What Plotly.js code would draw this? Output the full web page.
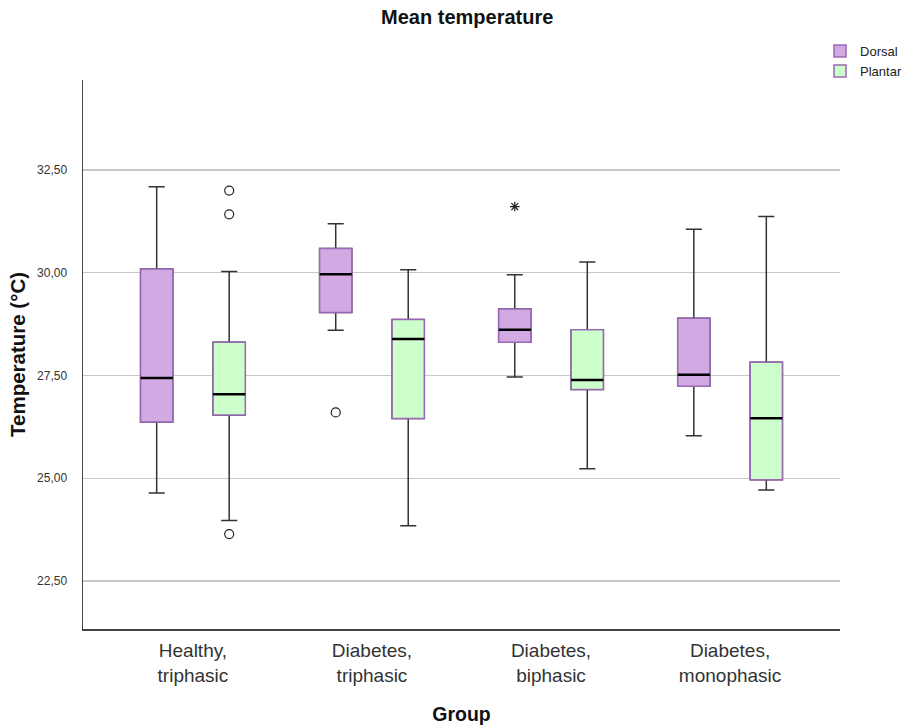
<!DOCTYPE html>
<html>
<head>
<meta charset="utf-8">
<script src="https://cdn.plot.ly/plotly-3.0.1.min.js"></script>
<style>html,body{margin:0;padding:0;background:#fff;}#chart{width:909px;height:727px;}</style>
</head>
<body>
<div id="chart"></div>
<script>
const categories = ["Healthy,<br>triphasic", "Diabetes,<br>triphasic", "Diabetes,<br>biphasic", "Diabetes,<br>monophasic"];

const dorsalLower  = [24.64, 28.60, 27.46, 26.03];
const dorsalQ1     = [26.37, 29.03, 28.31, 27.24];
const dorsalMedian = [27.44, 29.96, 28.61, 27.52];
const dorsalQ3     = [30.09, 30.59, 29.12, 28.89];
const dorsalUpper  = [32.09, 31.19, 29.95, 31.06];

const plantarLower  = [23.97, 23.84, 25.23, 24.71];
const plantarQ1     = [26.54, 26.45, 27.16, 24.96];
const plantarMedian = [27.04, 28.39, 27.39, 26.46];
const plantarQ3     = [28.31, 28.86, 28.61, 27.82];
const plantarUpper  = [30.03, 30.07, 30.26, 31.37];

// outliers (circles) and extremes (stars)
const dorsalOutlierGroup = ["Diabetes,<br>triphasic"];
const dorsalOutlierValue = [26.60];
const dorsalExtremeGroup = ["Diabetes,<br>biphasic"];
const dorsalExtremeValue = [31.61];
const plantarOutlierGroup = ["Healthy,<br>triphasic", "Healthy,<br>triphasic", "Healthy,<br>triphasic"];
const plantarOutlierValue = [32.00, 31.42, 23.64];

const outline = "#9b68b4";
const whisker = "#333333";
const fills = {Dorsal: "#d2aae3", Plantar: "#ccffcc"};

function series(name, group, lo, q1, med, q3, hi) {
  const common = {type: "box", x: categories, offsetgroup: group, alignmentgroup: "a",
                  hoverinfo: "skip", whiskerwidth: 0.5};
  return [
    Object.assign({}, common, {q1: q1, median: med, q3: q3, lowerfence: lo, upperfence: hi,
      line: {color: whisker, width: 1.5}, fillcolor: "rgba(0,0,0,0)", showlegend: false, name: name}),
    Object.assign({}, common, {q1: q1, median: med, q3: q3, lowerfence: q1, upperfence: q3,
      line: {color: outline, width: 1.5}, fillcolor: fills[name], showlegend: true, name: name}),
    Object.assign({}, common, {q1: med, median: med, q3: med, lowerfence: med, upperfence: med,
      line: {color: "#000000", width: 2.5}, fillcolor: "rgba(0,0,0,0)", showlegend: false, name: name})
  ];
}

function points(group, xs, ys, symbol, size) {
  return {type: "box", x: xs, y: ys, offsetgroup: group, alignmentgroup: "a",
    boxpoints: "all", jitter: 0, pointpos: 0, hoverinfo: "skip", showlegend: false,
    line: {color: "rgba(0,0,0,0)", width: 0}, fillcolor: "rgba(0,0,0,0)",
    marker: {symbol: symbol, size: size, color: "#222", line: {color: "#222", width: 1.2}}};
}

const data = []
  .concat(series("Dorsal", "d", dorsalLower, dorsalQ1, dorsalMedian, dorsalQ3, dorsalUpper))
  .concat(series("Plantar", "p", plantarLower, plantarQ1, plantarMedian, plantarQ3, plantarUpper))
  .concat([
    points("d", dorsalOutlierGroup, dorsalOutlierValue, "circle-open", 9),
    points("d", dorsalExtremeGroup, dorsalExtremeValue, "asterisk-open", 8),
    points("p", plantarOutlierGroup, plantarOutlierValue, "circle-open", 9)
  ]);

const font = "Liberation Sans, Arial, sans-serif";
const layout = {
  width: 909, height: 727,
  margin: {l: 83, r: 69, t: 80, b: 98, autoexpand: false},
  paper_bgcolor: "#fff", plot_bgcolor: "#fff",
  separators: ",.",
  font: {family: font, color: "#222"},
  title: {text: "<b>Mean temperature</b>", x: 0.514, xref: "container", xanchor: "center",
          y: 0.977, yref: "container", yanchor: "middle",
          font: {size: 20, family: font, color: "#111"}},
  boxmode: "group", boxgap: 0.19, boxgroupgap: 0.556,
  xaxis: {range: [-0.614, 3.614], showline: true, linecolor: "#444", linewidth: 1.5,
          showgrid: false, zeroline: false, ticks: "", ticklabelstandoff: 4,
          tickfont: {size: 19, family: font, color: "#333"},
          title: {text: "<b>Group</b>", font: {size: 19.5, family: font, color: "#111"}, standoff: 22}},
  yaxis: {range: [21.33, 34.69], tick0: 22.5, dtick: 2.5, tickformat: ".2f",
          showline: true, linecolor: "#444", linewidth: 1.5,
          showgrid: true, gridcolor: "#c8c8c8", gridwidth: 1.2, zeroline: false,
          ticks: "", ticklabelstandoff: 12,
          tickfont: {size: 12, family: font, color: "#333"},
          title: {text: "<b>Temperature (°C)</b>", font: {size: 20.5, family: font, color: "#111"}, standoff: 6}},
  legend: {x: 0.9736, xanchor: "left", y: 1.08, yanchor: "top", font: {size: 13, family: font, color: "#222"},
           bgcolor: "rgba(0,0,0,0)", itemwidth: 30, tracegroupgap: 0, traceorder: "normal"},
  showlegend: true
};

Plotly.newPlot("chart", data, layout, {displayModeBar: false, staticPlot: true});
</script>
</body>
</html>
